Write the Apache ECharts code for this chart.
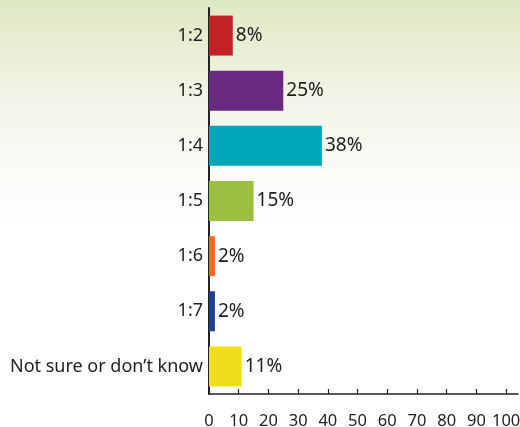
<!DOCTYPE html>
<html><head><meta charset="utf-8">
<script src="https://cdn.jsdelivr.net/npm/echarts@6/dist/echarts.min.js"></script>
<style>html,body{margin:0;padding:0;}#c{width:520px;height:427px;background:linear-gradient(to bottom,#dfe8c3 0px,#f3f6ea 110px,#fcfdfa 190px,#ffffff 240px);}</style>
</head><body><div id="c"></div>
<script>
const categories = ["1:2","1:3","1:4","1:5","1:6","1:7","Not sure or don\u2019t know"];
const values = [8,25,38,15,2,2,11];
const colors = ["#c42127","#672a7e","#00a5b7","#9bbf3f","#f36a23","#213f94","#f0de1b"];
const tickValues = [0,10,20,30,40,50,60,70,80,90,100];

const FONT = "Noto Sans";
const chart = echarts.init(document.getElementById('c'), null, {renderer:'canvas'});
chart.setOption({
  animation:false,
  grid:{left:209,right:2,top:8,bottom:33,containLabel:false,outerBoundsMode:'none'},
  xAxis:{type:'value',min:0,max:104,interval:10,
    axisLine:{show:true,lineStyle:{color:'#222',width:1.5}},
    axisTick:{show:true,inside:true,length:5,customValues:tickValues,lineStyle:{color:'#222',width:1.2}},
    axisLabel:{customValues:tickValues,margin:19,color:'#222',fontSize:16.5,fontFamily:FONT},
    splitLine:{show:false}},
  yAxis:{type:'category',data:categories,inverse:true,
    axisLine:{show:true,lineStyle:{color:'#222',width:2}},
    axisTick:{show:false},
    axisLabel:{margin:6,color:'#222',fontSize:18,fontFamily:FONT}},
  series:[{type:'bar',barCategoryGap:'27.5%',
    data:values.map((v,i)=>({value:v,itemStyle:{color:colors[i]}})),
    label:{show:true,position:'right',distance:3,formatter:'{c}%',color:'#222',fontSize:19,fontFamily:FONT}}]
});
</script></body></html>
